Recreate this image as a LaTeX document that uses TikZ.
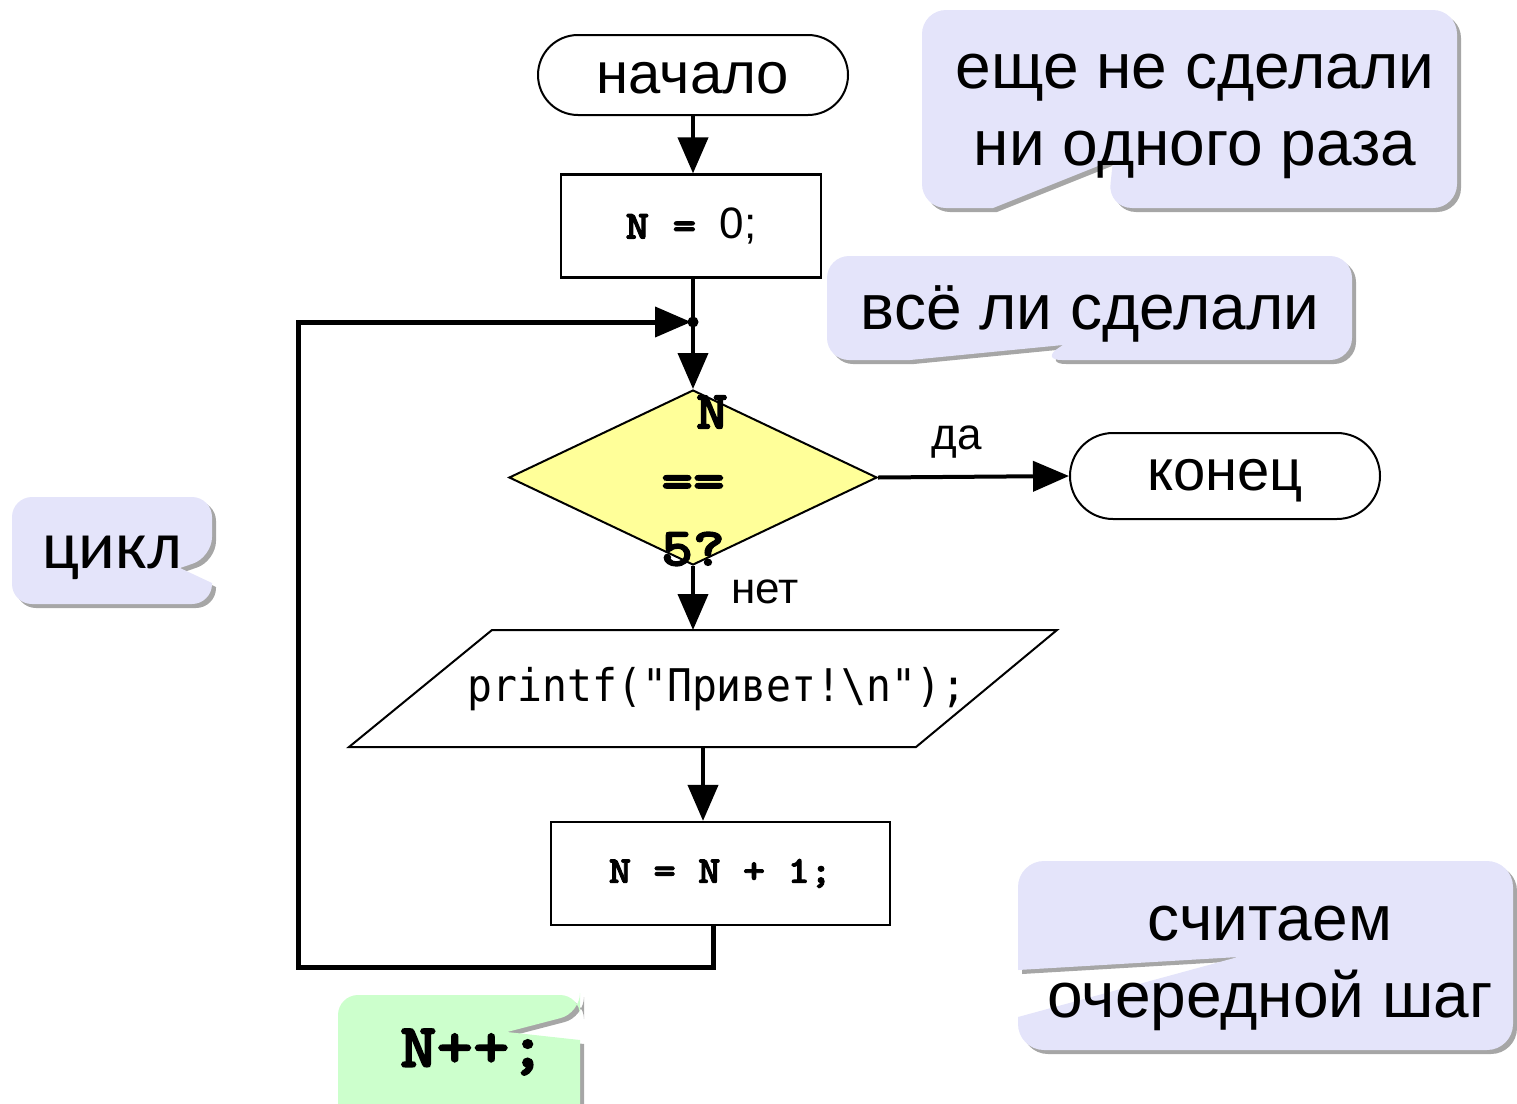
\documentclass[tikz,border=0pt]{standalone}
\usepackage{fontspec}
\setmainfont{Liberation Sans}
\newfontfamily\cour{lmmonolt10-bold.otf}[FakeBold=2.5,FakeStretch=1.12]
\newfontfamily\dmono{DejaVu Sans Mono}
\newfontfamily\calib{Carlito}
\usetikzlibrary{shapes.geometric,shapes.misc,arrows.meta,shadows}
\definecolor{callblue}{RGB}{228,228,250}
\definecolor{callgreen}{RGB}{204,255,204}
\definecolor{condyellow}{RGB}{255,255,153}
\tikzset{
  term/.style={rounded rectangle, draw=black, line width=2pt, fill=white, inner sep=0pt, font=\fontsize{58}{60}\selectfont, text depth=0pt},
  procbox/.style={rectangle, draw=black, line width=2.2pt, fill=white, inner sep=0pt},
  flow/.style={line width=4pt, -{Triangle[length=36pt,width=30pt]}},
  plainflow/.style={line width=4pt},
  loopline/.style={line width=5pt, line join=miter},
  calltext/.style={font=\fontsize{64}{77}\selectfont, align=center, inner sep=0pt},
  lbl/.style={font=\fontsize{44}{50}\selectfont, inner sep=0pt},
  codetxt/.style={font=\cour\fontsize{54}{58}\selectfont, inner sep=0pt},
  callout/.style={drop shadow={shadow xshift=4pt, shadow yshift=-4pt, fill=black, opacity=0.35}},
}
\begin{document}
\begin{tikzpicture}[x=1pt,y=-1pt]
\useasboundingbox (0,0) rectangle (1517,1103);
\clip (0,0) rectangle (1517,1103);

% callouts
\path[callout, fill=callblue, rounded corners=24pt]
  (922,10) -- (1457,10) -- (1457,208) -- (1108,208) [sharp corners] -- (1113,160) -- (993,208) [rounded corners=24pt] -- (922,208) -- cycle;
\node[calltext] (c1) at (1195,116) {еще не сделали\\ни одного раза};

\path[callout, fill=callblue, rounded corners=22pt]
  (827,256) -- (1352,256) -- (1352,360) -- (1040,360) [sharp corners] -- (1063,345) -- (910,360) [rounded corners=22pt] -- (827,360) -- cycle;
\node[calltext] (c2) at (1090,314) {всё ли сделали};

\path[callout, fill=callblue, rounded corners=20pt]
  (12,497) -- (212,497) -- (212,557) [sharp corners] -- (180,568) -- (212,583) [rounded corners=20pt] -- (212,604) -- (12,604) -- cycle;
\node[calltext, font=\calib\fontsize{68}{70}\selectfont] (c3) at (112,558) {цикл};

\path[callout, fill=callgreen, rounded corners=20pt]
  (338,995) -- (580,995) -- (580,1013) [sharp corners] -- (507,1032) -- (580,1040) [rounded corners=20pt] -- (580,1130) -- (338,1130) -- cycle;
\node[codetxt, font=\cour\fontsize{62}{66}\selectfont] (c4) at (473,1052) {N++;};

\path[callout, fill=callblue, rounded corners=26pt]
  (1018,861) -- (1513,861) -- (1513,1050) -- (1018,1050) [sharp corners] -- (1018,1017) -- (1238,957) -- (1018,970) [rounded corners=26pt] -- cycle;
\node[calltext] (c5) at (1270,968) {считаем\\очередной шаг};

% flowchart
\node[term, minimum width=310pt, minimum height=80pt, text height=36pt] (start) at (693,75) {начало};
\node[procbox, minimum width=260pt, minimum height=103pt] (n0) at (691,226) {{\cour\fontsize{40}{44}\selectfont N = }{\fontsize{44}{46}\selectfont 0;}};
\coordinate (J) at (693,322);
\node[diamond, draw=black, line width=2pt, fill=condyellow, minimum width=368pt, minimum height=175pt, inner sep=0pt] (cond) at (693,477.5) {};
\node[term, minimum width=310pt, minimum height=86pt, text height=28pt] (stop) at (1225,476) {конец};

% parallelogram (output)
\coordinate (p1) at (349,747);
\coordinate (p2) at (492,630);
\coordinate (p3) at (1057,630);
\coordinate (p4) at (916,747);
\draw[line width=2pt, fill=white] (p1) -- (p2) -- (p3) -- (p4) -- cycle;
\coordinate (ptop) at (693,630);
\coordinate (pbot) at (703,747);
\node[inner sep=0pt, font=\dmono\fontsize{45}{48}\selectfont] (out) at (717,689) {\scalebox{0.92}[1]{printf("Привет!\textbackslash n");}};

\node[procbox, minimum width=339pt, minimum height=103pt, font=\cour\fontsize{38}{42}\selectfont] (inc) at (720.5,873.5) {N = N + 1;};

% condition text (overflowing the diamond)
\node[codetxt] (tN) at (712,412) {N};
\node[codetxt] (tEq) at (693,487) {==};
\node[codetxt] (t5) at (693,549) {5?};

% connectors
\draw[flow] (start.south) -- (start.south |- n0.north);
\draw[plainflow] (n0.south -| J) -- (J);
\draw[flow] (J) -- (cond.north);
\coordinate (lb) at (713,967);
\coordinate (ll) at (298,967);
\coordinate (lt) at (298,322);
\draw[loopline] (inc.south -| lb) -- (lb) -- (ll) -- (lt) -- ([xshift=-26pt]J);
\draw[line width=4pt, -{Triangle[length=36pt,width=30pt]}] ([xshift=-40pt]J) -- ([xshift=-2pt]J);
\fill (J) circle (5.5pt);
\draw[flow] (cond.east) -- (stop.west);
\draw[flow] (cond.south) -- (ptop);
\draw[flow] (pbot) -- (pbot |- inc.north);

% labels
\node[lbl] (yes) at (957,442) {да};
\node[lbl] (no) at (765,592) {нет};
\end{tikzpicture}
\end{document}
